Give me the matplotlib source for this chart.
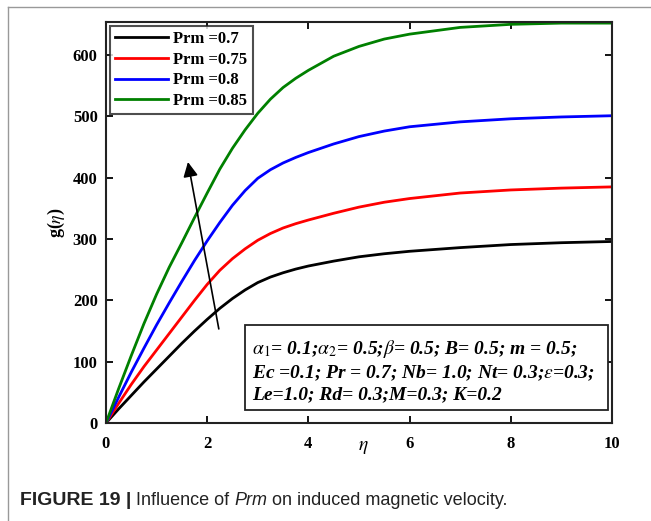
import numpy as np
import matplotlib
matplotlib.use("Agg")
import matplotlib.pyplot as plt
from matplotlib.patches import Rectangle

# Значения
eta = [0, 0.25, 0.5, 0.75, 1, 1.25, 1.5, 1.75, 2, 2.25, 2.5, 2.75, 3, 3.25, 3.5,
       3.75, 4, 4.5, 5, 5.5, 6, 7, 8, 9, 10]
g_07 = [0, 23, 45, 67, 88, 109, 130, 150, 169, 187, 203, 217, 229, 238, 245,
        251, 256, 264, 271, 276, 280, 286, 291, 294, 296]
g_075 = [0, 32, 63, 92, 119, 146, 173, 200, 226, 249, 268, 284, 298, 309, 318,
         325, 331, 342, 352, 360, 366, 375, 380, 383, 385]
g_08 = [0, 42, 83, 122, 160, 196, 231, 265, 297, 327, 355, 379, 399, 413, 424,
        433, 441, 455, 467, 476, 483, 491, 496, 499, 501]
g_085 = [0, 56, 110, 162, 210, 254, 294, 335, 375, 414, 448, 478, 505, 528, 547,
         562, 575, 598, 614, 626, 634, 645, 650, 652, 652]

labels = ["Prm =0.7", "Prm =0.75", "Prm =0.8", "Prm =0.85"]
colors = ["black", "red", "blue", "green"]
series = [g_07, g_075, g_08, g_085]

xticks = [0, 2, 4, 6, 8, 10]
yticks = [0, 100, 200, 300, 400, 500, 600]

plt.rcParams["font.family"] = "Liberation Serif"
plt.rcParams["mathtext.fontset"] = "stix"

fig = plt.figure(figsize=(6.51, 5.21), dpi=100, facecolor="white")
ax = fig.add_axes([0.1628, 0.188, 0.7772, 0.770])

for y, c, lab in zip(series, colors, labels):
    ax.plot(eta, y, color=c, linewidth=2, label=lab)

ax.set_xlim(0, 10)
ax.set_ylim(0, 654)
ax.set_xticks(xticks)
ax.set_yticks(yticks)
ax.tick_params(direction="in", top=True, right=True, length=5, width=1.3,
               labelsize=12)
ax.tick_params(axis="x", pad=9)
ax.tick_params(axis="y", pad=6)
for t in ax.get_xticklabels() + ax.get_yticklabels():
    t.set_fontweight("bold")
for s in ax.spines.values():
    s.set_linewidth(1.5)
    s.set_color("#222222")

ax.set_xlabel(r"$\eta$", fontsize=14, va="center")
ax.xaxis.set_label_coords(0.508, -0.06)
ax.set_ylabel(r"g($\eta$)", fontsize=13, fontweight="bold", labelpad=4)

leg = ax.legend(loc="upper left", prop={"weight": "bold", "size": 12},
                frameon=True, fancybox=False, edgecolor="#222222",
                borderpad=0.3, labelspacing=0.28, handlelength=3.2,
                handletextpad=0.3, borderaxespad=0.25)
leg.get_frame().set_linewidth(1.5)

# стрелка
ax.annotate("", xy=(1.61, 430), xytext=(2.24, 149),
            arrowprops=dict(arrowstyle="-|>", color="black", lw=1.2,
                            mutation_scale=22))

# блок параметров
ax.add_patch(Rectangle((2.75, 21), 7.18, 139, facecolor="white",
                       edgecolor="#222222", linewidth=1.3, zorder=3))
params = (r"$\alpha$$_{\mathbf{\mathit{1}}}$= 0.1;$\alpha$$_{\mathbf{\mathit{2}}}$= 0.5;$\beta$= 0.5; B= 0.5; m = 0.5;" "\n"
          r"Ec =0.1; Pr = 0.7; Nb= 1.0; Nt= 0.3;$\epsilon$=0.3;" "\n"
          r"Le=1.0; Rd= 0.3;M=0.3; K=0.2")
ax.text(2.89, 86, params, fontsize=14, fontweight="bold", style="italic",
        va="center", ha="left", linespacing=1.25, zorder=4)

# подпись рисунка
renderer = fig.canvas.get_renderer()
pieces = [("FIGURE 19 |", dict(fontweight="bold", size=14)),
          ("Influence of", dict(size=13)),
          ("Prm", dict(size=13, style="italic")),
          ("on induced magnetic velocity.", dict(size=13))]
xpos = 20
for txt, kw in pieces:
    t = fig.text(xpos / 651, 0.030, txt, family="Liberation Sans",
                 color="#222222", va="baseline", **kw)
    bb = t.get_window_extent(renderer)
    xpos = bb.x1 + 5

# рамка страницы
fig.add_artist(plt.Line2D([0.012, 0.012], [0, 0.987], color="#999999", lw=1))
fig.add_artist(plt.Line2D([0.012, 1], [0.987, 0.987], color="#999999", lw=1))

fig.savefig("out.png", dpi=100)
